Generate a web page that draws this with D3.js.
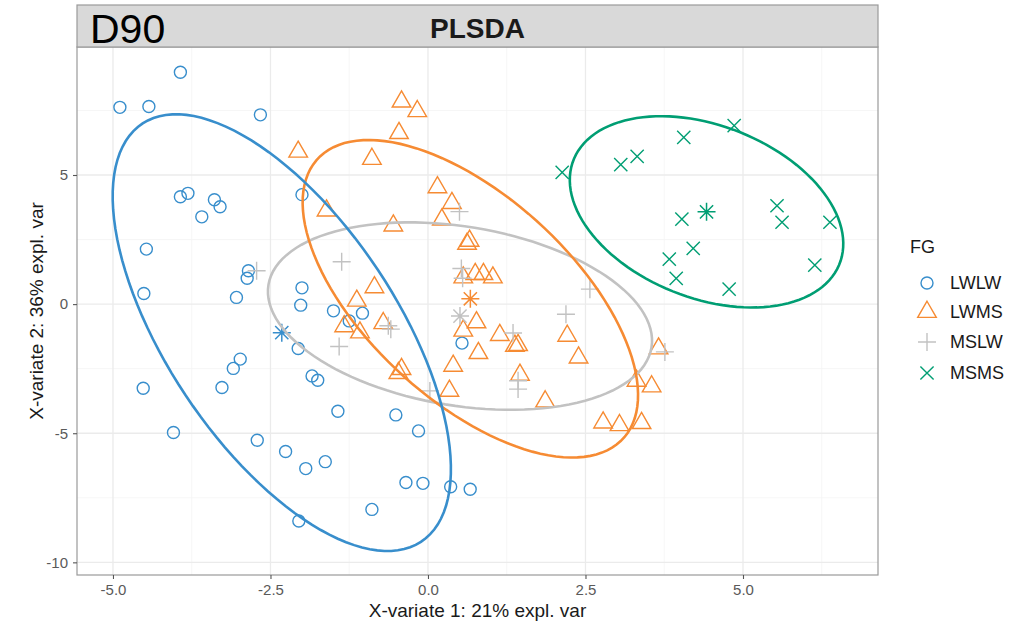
<!DOCTYPE html>
<html>
<head>
<meta charset="utf-8">
<script src="https://cdn.jsdelivr.net/npm/d3@7"></script>
<style>
  html, body { margin: 0; padding: 0; background: #fff; }
  svg { display: block; font-family: "Liberation Sans", Arial, sans-serif; }
</style>
</head>
<body>
<svg id="chart" width="1026" height="626"></svg>
<script>
// Sample scores on the first two PLS-DA components, one array per group
const LWLW = [
  [-3.93, 8.98], [-4.89, 7.62], [-4.43, 7.65], [-2.66, 7.33], [-2.00, 4.24],
  [-3.93, 4.16], [-3.81, 4.29], [-3.39, 4.04], [-3.30, 3.77], [-3.59, 3.38],
  [-4.47, 2.13], [-2.85, 1.29], [-2.87, 1.00], [-4.51, 0.41], [-3.04, 0.26],
  [-2.00, 0.63], [-2.02, -0.04], [-1.50, -0.26], [-1.04, -0.35], [-1.25, -0.65],
  [-2.06, -1.72], [-2.98, -2.13], [-3.09, -2.49], [-3.27, -3.23], [-4.52, -3.26],
  [-1.84, -2.78], [-1.75, -2.95], [-1.43, -4.15], [-4.04, -4.97], [-2.71, -5.27],
  [-2.26, -5.71], [-1.63, -6.10], [-1.94, -6.37], [-2.05, -8.40], [0.54, -1.51],
  [-0.51, -4.29], [-0.15, -4.91], [-0.35, -6.91], [-0.08, -6.94], [0.36, -7.07],
  [0.67, -7.17], [-0.89, -7.95]
];
const LWMS = [
  [-2.06, 5.90], [-1.61, 3.62], [-0.42, 7.84], [-0.17, 7.47], [-0.46, 6.62],
  [-0.89, 5.62], [0.15, 4.52], [0.38, 3.91], [0.22, 3.27], [-0.55, 3.04],
  [0.66, 2.45], [0.62, 2.33], [0.75, 1.16], [0.88, 1.16], [1.03, 1.03],
  [0.56, 1.03], [-0.85, 0.65], [-1.13, 0.13], [-1.33, -0.86], [-1.08, -1.10],
  [-0.71, -0.74], [0.77, -0.71], [0.56, -1.03], [1.14, -1.20], [2.21, -1.23],
  [1.38, -1.62], [1.43, -1.59], [0.80, -1.90], [2.39, -2.07], [0.40, -2.39],
  [-0.47, -2.67], [-0.42, -2.52], [1.46, -2.74], [0.34, -3.36], [1.86, -3.77],
  [2.78, -4.59], [3.66, -1.72], [3.31, -2.97], [3.55, -3.19], [3.04, -4.69],
  [3.39, -4.61]
];
const MSLW = [
  [-2.72, 1.29], [-1.37, 1.64], [0.50, 3.58], [0.53, 1.38], [0.55, 1.00],
  [2.57, 0.58], [2.19, -0.39], [-0.63, -0.84], [-0.59, -0.97], [-1.41, -1.64],
  [1.35, -1.12], [1.43, -2.97], [1.43, -3.29], [0.03, -3.36], [3.76, -1.85]
];
const MSMS = [
  [3.06, 5.40], [3.32, 5.72], [4.06, 6.46], [4.86, 6.91], [5.54, 3.81],
  [5.62, 3.17], [6.38, 3.17], [4.03, 3.29], [4.21, 2.16], [3.83, 1.74],
  [3.94, 1.00], [4.78, 0.58], [6.14, 1.51], [2.13, 5.10]
];

const groupNames = ["LWLW", "LWMS", "MSLW", "MSMS"];
const groupData = [LWLW, LWMS, MSLW, MSMS];
const groupColors = ["#388ECC", "#F68B33", "#C2C2C2", "#009E73"];
const groupShapes = ["circle", "triangle", "plus", "cross"];

const xTicks = [-5, -2.5, 0, 2.5, 5];
const xMinor = [-3.75, -1.25, 1.25, 3.75, 6.25];
const yTicks = [-10, -5, 0, 5];
const yMinor = [-7.5, -2.5, 2.5, 7.5];

const panelTitle = "PLSDA";
const cornerLabel = "D90";
const xTitle = "X-variate 1: 21% expl. var";
const yTitle = "X-variate 2: 36% expl. var";
const legendTitle = "FG";
const ellipseLevel = 0.8;

// Layout
const panel = { left: 77, right: 878, top: 47, bottom: 575 };
const strip = { top: 5, bottom: 47 };

const svg = d3.select("#chart");

const x = d3.scaleLinear().domain([-5.571, 7.143]).range([panel.left, panel.right]);
const y = d3.scaleLinear().domain([-10.49, 9.957]).range([panel.bottom, panel.top]);

// Panel background and grid
svg.append("rect")
  .attr("x", panel.left).attr("y", panel.top)
  .attr("width", panel.right - panel.left).attr("height", panel.bottom - panel.top)
  .attr("fill", "#fff");

const grid = svg.append("g");
grid.selectAll(".xminor").data(xMinor).join("line")
  .attr("x1", d => x(d)).attr("x2", d => x(d))
  .attr("y1", panel.top).attr("y2", panel.bottom)
  .attr("stroke", "#f4f4f4").attr("stroke-width", 0.8);
grid.selectAll(".yminor").data(yMinor).join("line")
  .attr("y1", d => y(d)).attr("y2", d => y(d))
  .attr("x1", panel.left).attr("x2", panel.right)
  .attr("stroke", "#f4f4f4").attr("stroke-width", 0.8);
grid.selectAll(".xmajor").data(xTicks).join("line")
  .attr("x1", d => x(d)).attr("x2", d => x(d))
  .attr("y1", panel.top).attr("y2", panel.bottom)
  .attr("stroke", "#ebebeb").attr("stroke-width", 1.3);
grid.selectAll(".ymajor").data(yTicks).join("line")
  .attr("y1", d => y(d)).attr("y2", d => y(d))
  .attr("x1", panel.left).attr("x2", panel.right)
  .attr("stroke", "#ebebeb").attr("stroke-width", 1.3);

// Marker shapes (R pch 1, 2, 3, 4, 8)
function shapePath(shape) {
  if (shape === "circle") {
    const r = 6;
    return `M${-r},0A${r},${r} 0 1,0 ${r},0A${r},${r} 0 1,0 ${-r},0Z`;
  }
  if (shape === "triangle") {
    const xc = 6.9;
    const r = 1.5551 * xc, yc = 0.7776 * xc, hx = 1.3468 * xc;
    return `M0,${-r}L${hx},${yc}L${-hx},${yc}Z`;
  }
  if (shape === "plus") {
    const a = 9;
    return `M${-a},0H${a}M0,${-a}V${a}`;
  }
  if (shape === "cross") {
    const a = 6.6;
    return `M${-a},${-a}L${a},${a}M${-a},${a}L${a},${-a}`;
  }
  if (shape === "star") {
    const a = 9, b = 6.6;
    return `M${-a},0H${a}M0,${-a}V${a}M${-b},${-b}L${b},${b}M${-b},${b}L${b},${-b}`;
  }
  return "";
}

// Points
const pts = svg.append("g");
groupData.forEach((data, gi) => {
  pts.append("g").selectAll("path").data(data).join("path")
    .attr("transform", d => `translate(${x(d[0])},${y(d[1])})`)
    .attr("d", shapePath(groupShapes[gi]))
    .attr("fill", "none")
    .attr("stroke", groupColors[gi])
    .attr("stroke-width", 1.4);
});

// Group centroids
const centroids = groupData.map(data => [d3.mean(data, d => d[0]), d3.mean(data, d => d[1])]);
pts.append("g").selectAll("path").data(centroids).join("path")
  .attr("transform", d => `translate(${x(d[0])},${y(d[1])})`)
  .attr("d", shapePath("star"))
  .attr("fill", "none")
  .attr("stroke", (d, i) => groupColors[i])
  .attr("stroke-width", 1.5);

// Confidence ellipses from each group's covariance
function ellipsePoints(data, level, n = 120) {
  const mx = d3.mean(data, d => d[0]);
  const my = d3.mean(data, d => d[1]);
  const sx = d3.deviation(data, d => d[0]);
  const sy = d3.deviation(data, d => d[1]);
  let cov = 0;
  data.forEach(d => { cov += (d[0] - mx) * (d[1] - my); });
  cov /= (data.length - 1);
  const r = cov / (sx * sy);
  const dAng = Math.acos(r);
  const t = Math.sqrt(-2 * Math.log(1 - level));
  return d3.range(n + 1).map(i => {
    const a = (i / n) * 2 * Math.PI;
    return [mx + t * sx * Math.cos(a + dAng / 2), my + t * sy * Math.cos(a - dAng / 2)];
  });
}
const line = d3.line().x(d => x(d[0])).y(d => y(d[1])).curve(d3.curveLinearClosed);
const ellOrder = [2, 3, 1, 0];
const ells = svg.append("g");
ellOrder.forEach(gi => {
  ells.append("path")
    .attr("d", line(ellipsePoints(groupData[gi], ellipseLevel)))
    .attr("fill", "none")
    .attr("stroke", groupColors[gi])
    .attr("stroke-width", 2.6);
});

// Panel border
svg.append("rect")
  .attr("x", panel.left).attr("y", panel.top)
  .attr("width", panel.right - panel.left).attr("height", panel.bottom - panel.top)
  .attr("fill", "none").attr("stroke", "#9a9a9a").attr("stroke-width", 1.2);

// Strip with title
svg.append("rect")
  .attr("x", panel.left).attr("y", strip.top)
  .attr("width", panel.right - panel.left).attr("height", strip.bottom - strip.top)
  .attr("fill", "#d9d9d9").attr("stroke", "#9a9a9a").attr("stroke-width", 1.2);
svg.append("text")
  .attr("x", (panel.left + panel.right) / 2).attr("y", 38)
  .attr("text-anchor", "middle")
  .attr("font-size", 28).attr("font-weight", "bold").attr("fill", "#1a1a1a")
  .text(panelTitle);
svg.append("text")
  .attr("x", 90).attr("y", 43)
  .attr("font-size", 41).attr("fill", "#000")
  .text(cornerLabel);

// Axes (hyphen-minus in labels)
const fmtX = d => d.toFixed(1);
const fmtY = d => String(d);
const xAxis = d3.axisBottom(x).tickValues(xTicks).tickFormat(fmtX).tickSize(4).tickPadding(5);
const gx = svg.append("g").attr("transform", `translate(0,${panel.bottom})`).call(xAxis);
gx.select(".domain").remove();
gx.selectAll("line").attr("stroke", "#555").attr("stroke-width", 1.1);
gx.selectAll("text").attr("font-size", 15).attr("fill", "#5a5a5a").attr("font-family", "Liberation Sans, Arial, sans-serif");

const yAxis = d3.axisLeft(y).tickValues(yTicks).tickFormat(fmtY).tickSize(4).tickPadding(5);
const gy = svg.append("g").attr("transform", `translate(${panel.left},0)`).call(yAxis);
gy.select(".domain").remove();
gy.selectAll("line").attr("stroke", "#555").attr("stroke-width", 1.1);
gy.selectAll("text").attr("font-size", 15).attr("fill", "#5a5a5a").attr("font-family", "Liberation Sans, Arial, sans-serif");

svg.append("text")
  .attr("x", (panel.left + panel.right) / 2).attr("y", 617)
  .attr("text-anchor", "middle").attr("font-size", 19).attr("fill", "#1a1a1a")
  .text(xTitle);
svg.append("text")
  .attr("transform", `translate(43,${(panel.top + panel.bottom) / 2}) rotate(-90)`)
  .attr("text-anchor", "middle").attr("font-size", 19).attr("fill", "#1a1a1a")
  .text(yTitle);

// Legend
const legend = svg.append("g");
legend.append("text").attr("x", 910).attr("y", 253)
  .attr("font-size", 18).attr("fill", "#1a1a1a").text(legendTitle);
const legY = [283, 312, 342, 373];
groupNames.forEach((name, i) => {
  legend.append("path")
    .attr("transform", `translate(927,${legY[i]})`)
    .attr("d", shapePath(groupShapes[i]))
    .attr("fill", "none").attr("stroke", groupColors[i]).attr("stroke-width", 1.4);
  legend.append("text")
    .attr("x", 950).attr("y", legY[i]).attr("dy", "0.35em")
    .attr("font-size", 18).attr("fill", "#1a1a1a").text(name);
});
</script>
</body>
</html>
